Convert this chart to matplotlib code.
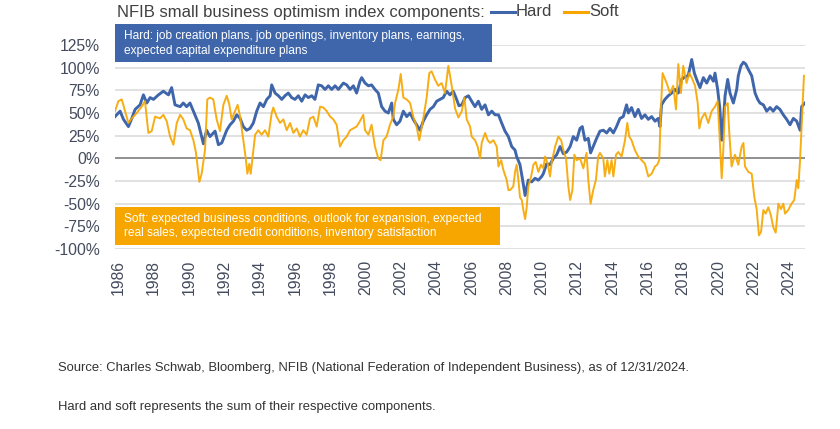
import matplotlib
matplotlib.use("Agg")
import matplotlib.pyplot as plt
from matplotlib.patches import Rectangle
from matplotlib.lines import Line2D

plt.rcParams["font.family"] = ["Liberation Sans", "DejaVu Sans"]

# values (decimal year, percent)
hard_years = [
    1985.81, 1986.10, 1986.29, 1986.57, 1986.76, 1986.95, 1987.23, 1987.42, 1987.61, 1987.80,
    1987.99, 1988.27, 1988.55, 1988.84, 1989.02, 1989.21, 1989.50, 1989.68, 1989.87, 1990.06,
    1990.25, 1990.53, 1990.82, 1991.00, 1991.19, 1991.48, 1991.67, 1991.86, 1992.14, 1992.33,
    1992.52, 1992.71, 1992.90, 1993.08, 1993.27, 1993.46, 1993.65, 1993.84, 1994.03, 1994.22,
    1994.41, 1994.60, 1994.69, 1994.88, 1995.07, 1995.26, 1995.44, 1995.63, 1995.82, 1996.01,
    1996.20, 1996.39, 1996.58, 1996.77, 1996.96, 1997.14, 1997.33, 1997.52, 1997.71, 1997.90,
    1998.09, 1998.28, 1998.47, 1998.75, 1998.94, 1999.13, 1999.32, 1999.50, 1999.69, 1999.79,
    1999.98, 2000.17, 2000.35, 2000.54, 2000.73, 2000.92, 2001.11, 2001.30, 2001.49, 2001.58,
    2001.77, 2001.96, 2002.15, 2002.34, 2002.53, 2002.71, 2002.90, 2003.09, 2003.28, 2003.47,
    2003.66, 2003.85, 2004.04, 2004.23, 2004.41, 2004.60, 2004.79, 2004.98, 2005.17, 2005.30,
    2005.46, 2005.65, 2005.84, 2006.02, 2006.21, 2006.40, 2006.59, 2006.78, 2006.97, 2007.16,
    2007.35, 2007.54, 2007.72, 2007.91, 2008.10, 2008.29, 2008.48, 2008.57, 2008.76, 2008.91,
    2009.05, 2009.23, 2009.42, 2009.61, 2009.80, 2009.99, 2010.08, 2010.27, 2010.46, 2010.65,
    2010.84, 2011.03, 2011.22, 2011.41, 2011.60, 2011.78, 2011.97, 2012.16, 2012.29, 2012.44,
    2012.63, 2012.76, 2012.91, 2013.10, 2013.29, 2013.48, 2013.67, 2013.86, 2014.05, 2014.23,
    2014.42, 2014.61, 2014.80, 2014.90, 2015.08, 2015.27, 2015.46, 2015.65, 2015.84, 2016.03,
    2016.22, 2016.41, 2016.59, 2016.69, 2016.78, 2016.97, 2017.16, 2017.35, 2017.54, 2017.73,
    2017.92, 2018.11, 2018.29, 2018.49, 2018.64, 2018.77, 2018.96, 2019.15, 2019.34, 2019.53,
    2019.72, 2019.81, 2019.96, 2020.09, 2020.19, 2020.28, 2020.38, 2020.53, 2020.66, 2020.85,
    2021.04, 2021.13, 2021.28, 2021.42, 2021.55, 2021.70, 2021.89, 2022.08, 2022.23, 2022.36,
    2022.55, 2022.74, 2022.93, 2023.11, 2023.30, 2023.49, 2023.68, 2023.87, 2024.06, 2024.25,
    2024.44, 2024.63, 2024.72, 2024.91,
]
hard_values = [
    46, 52, 43, 35, 44, 54, 59, 70, 61, 67,
    65, 70, 74, 70, 78, 59, 57, 61, 57, 61,
    52, 39, 16, 31, 24, 30, 15, 17, 31, 37,
    41, 48, 44, 35, 31, 33, 39, 52, 61, 57,
    65, 69, 81, 72, 69, 65, 69, 72, 67, 65,
    69, 63, 70, 67, 69, 65, 81, 80, 76, 80,
    76, 80, 76, 83, 81, 76, 80, 72, 85, 89,
    83, 80, 81, 76, 72, 57, 52, 50, 61, 43,
    37, 41, 52, 46, 50, 43, 37, 31, 41, 48,
    54, 57, 63, 65, 67, 74, 70, 74, 65, 58,
    59, 67, 69, 63, 57, 63, 54, 59, 48, 52,
    48, 48, 39, 30, 24, 13, 9, 2, -7, -24,
    -41, -24, -26, -22, -24, -20, -17, -6, -7, 0,
    4, 13, 5, 7, 13, 24, 20, 33, 35, 20,
    22, 6, 13, 22, 30, 31, 28, 33, 28, 35,
    44, 46, 59, 50, 56, 46, 54, 44, 48, 43,
    46, 41, 44, 35, 59, 65, 69, 72, 76, 72,
    87, 90, 91, 109, 94, 87, 78, 89, 83, 91,
    85, 94, 76, 54, 20, 39, 69, 87, 72, 61,
    76, 91, 102, 106, 104, 98, 91, 72, 65, 61,
    59, 52, 56, 52, 57, 54, 48, 43, 37, 44,
    41, 31, 57, 61,
]

soft_years = [
    1985.81, 1986.00, 1986.19, 1986.38, 1986.57, 1986.76, 1987.04, 1987.32, 1987.51, 1987.70,
    1987.89, 1988.08, 1988.36, 1988.55, 1988.74, 1988.93, 1989.12, 1989.31, 1989.50, 1989.68,
    1989.87, 1990.06, 1990.25, 1990.40, 1990.59, 1990.72, 1990.91, 1991.04, 1991.19, 1991.38,
    1991.57, 1991.76, 1991.95, 1992.14, 1992.28, 1992.42, 1992.61, 1992.76, 1992.90, 1993.08,
    1993.22, 1993.31, 1993.42, 1993.50, 1993.65, 1993.75, 1993.93, 1994.12, 1994.31, 1994.50,
    1994.69, 1994.78, 1994.97, 1995.16, 1995.35, 1995.54, 1995.73, 1995.92, 1996.11, 1996.29,
    1996.48, 1996.67, 1996.86, 1997.05, 1997.24, 1997.43, 1997.62, 1997.81, 1998.00, 1998.18,
    1998.37, 1998.56, 1998.75, 1998.94, 1999.13, 1999.32, 1999.50, 1999.69, 1999.88, 1999.98,
    2000.17, 2000.35, 2000.54, 2000.73, 2000.86, 2001.02, 2001.20, 2001.39, 2001.58, 2001.68,
    2001.87, 2002.00, 2002.15, 2002.34, 2002.53, 2002.71, 2002.90, 2003.05, 2003.24, 2003.47,
    2003.62, 2003.75, 2003.94, 2004.13, 2004.32, 2004.51, 2004.70, 2004.89, 2005.08, 2005.27,
    2005.46, 2005.61, 2005.74, 2005.93, 2006.02, 2006.21, 2006.36, 2006.50, 2006.59, 2006.78,
    2006.93, 2007.06, 2007.25, 2007.44, 2007.54, 2007.69, 2007.82, 2008.01, 2008.10, 2008.20,
    2008.38, 2008.48, 2008.57, 2008.67, 2008.76, 2008.86, 2008.95, 2009.05, 2009.14, 2009.23,
    2009.39, 2009.52, 2009.65, 2009.80, 2009.95, 2010.08, 2010.18, 2010.33, 2010.46, 2010.56,
    2010.75, 2010.93, 2011.09, 2011.22, 2011.37, 2011.50, 2011.60, 2011.73, 2011.84, 2011.97,
    2012.16, 2012.35, 2012.53, 2012.63, 2012.76, 2012.91, 2013.06, 2013.19, 2013.29, 2013.48,
    2013.57, 2013.71, 2013.82, 2013.95, 2014.05, 2014.20, 2014.33, 2014.52, 2014.71, 2014.84,
    2014.95, 2015.08, 2015.27, 2015.46, 2015.65, 2015.84, 2016.03, 2016.22, 2016.41, 2016.54,
    2016.65, 2016.75, 2016.84, 2017.07, 2017.26, 2017.44, 2017.60, 2017.73, 2017.88, 2018.01,
    2018.20, 2018.35, 2018.49, 2018.68, 2018.83, 2018.92, 2019.05, 2019.24, 2019.43, 2019.62,
    2019.81, 2019.96, 2020.06, 2020.19, 2020.28, 2020.38, 2020.53, 2020.62, 2020.75, 2020.85,
    2020.94, 2021.13, 2021.32, 2021.42, 2021.51, 2021.70, 2021.89, 2022.04, 2022.17, 2022.30,
    2022.42, 2022.55, 2022.68, 2022.83, 2022.98, 2023.11, 2023.25, 2023.40, 2023.55, 2023.68,
    2023.78, 2023.96, 2024.15, 2024.30, 2024.44, 2024.53, 2024.63, 2024.72, 2024.85,
]
soft_values = [
    52, 63, 65, 52, 39, 44, 50, 57, 63, 28,
    30, 46, 44, 48, 41, 24, 15, 39, 48, 43,
    33, 31, 20, 6, -26, -17, 9, 65, 67, 65,
    43, 30, 59, 69, 60, 43, 52, 59, 46, 20,
    0, -17, -6, -17, 9, 26, 31, 26, 31, 24,
    50, 56, 46, 39, 43, 31, 39, 28, 33, 24,
    31, 26, 44, 46, 35, 57, 56, 52, 46, 43,
    37, 13, 20, 24, 31, 33, 35, 41, 48, 31,
    26, 37, 13, 0, -2, 20, 24, 37, 46, 61,
    76, 93, 67, 65, 61, 46, 35, 20, 39, 67,
    94, 96, 87, 80, 83, 72, 102, 80, 55, 45,
    52, 67, 43, 35, 24, 20, 13, 0, 17, 28,
    20, 17, 20, 13, -9, -2, -13, -24, -35, -35,
    -31, -15, -7, -24, -43, -46, -57, -67, -54, -31,
    -20, -7, -4, -15, -7, -11, 2, -6, -20, -4,
    13, 24, 20, 9, 0, -31, -46, -35, 4, -2,
    0, -11, 6, -24, -50, -35, -24, 2, 6, 0,
    -20, -2, -17, -2, -20, 4, 7, 2, 20, 39,
    24, 20, 9, 2, -2, -6, -20, -17, -9, -7,
    -2, 57, 94, 83, 72, 80, 54, 104, 72, 102,
    83, 94, 89, 80, 61, 33, 44, 50, 39, 52,
    57, 63, 28, -22, 9, 57, 61, 28, -9, -2,
    4, -7, 13, 17, -9, -15, -17, -43, -56, -85,
    -81, -57, -61, -54, -63, -76, -82, -50, -56, -50,
    -61, -57, -50, -46, -24, -33, -2, 35, 91,
]

y_ticks = [-100, -75, -50, -25, 0, 25, 50, 75, 100, 125]
x_ticks = list(range(1986, 2025, 2))

title_text = "NFIB small business optimism index components:"
hard_note = ["Hard: job creation plans, job openings, inventory plans, earnings,",
             "expected capital expenditure plans"]
soft_note = ["Soft: expected business conditions, outlook for expansion, expected",
             "real sales, expected credit conditions, inventory satisfaction"]
source_text = ("Source: Charles Schwab, Bloomberg, NFIB (National Federation of "
               "Independent Business), as of 12/31/2024.")
footnote_text = "Hard and soft represents the sum of their respective components."

hard_color = "#3f66ab"
soft_color = "#f7a600"
label_color = "#444b5c"

W, H = 840, 429
fig = plt.figure(figsize=(W / 100, H / 100), dpi=100)


def fx(px):
    return px / W


def fy(py):
    return 1 - py / H


ax = fig.add_axes([fx(115), fy(249), fx(805) - fx(115), fy(45) - fy(249)])

ax.plot(hard_years, hard_values, color=hard_color, linewidth=2.1, zorder=3)
ax.plot(soft_years, soft_values, color=soft_color, linewidth=1.4, alpha=0.92, zorder=4)

ax.set_xlim(1985.81, 2024.91)
ax.set_ylim(-100, 125)

ax.set_yticks(y_ticks)
ax.set_yticklabels([f"{v}%" for v in y_ticks])
ax.set_xticks(x_ticks)
ax.set_xticklabels([str(y) for y in x_ticks], rotation=90)

ax.tick_params(axis="y", length=0, pad=11, labelsize=11.3, labelcolor=label_color)
ax.tick_params(axis="x", length=0, pad=8, labelsize=11.3, labelcolor=label_color)

ax.yaxis.grid(True, color="#d9d9d9", linewidth=1.1)
ax.set_axisbelow(True)
ax.axhline(0, color="#7a7a7a", linewidth=1.1, zorder=2)

for side in ax.spines.values():
    side.set_visible(False)

# annotation boxes
fig.patches.append(Rectangle((fx(115), fy(62)), fx(492) - fx(115), fy(24) - fy(62),
                             transform=fig.transFigure, facecolor=hard_color,
                             edgecolor="none", zorder=5))
fig.patches.append(Rectangle((fx(115), fy(245)), fx(500) - fx(115), fy(207) - fy(245),
                             transform=fig.transFigure, facecolor=soft_color,
                             edgecolor="none", zorder=5))

for line, py in zip(hard_note, [36, 51]):
    fig.text(fx(124), fy(py), line, color="white", fontsize=8.6, va="center", zorder=6)
for line, py in zip(soft_note, [219, 233]):
    fig.text(fx(124), fy(py), line, color="white", fontsize=8.6, va="center", zorder=6)

# title with inline legend
title = fig.text(fx(117), fy(12), title_text, fontsize=12, color="#404040", va="center")
fig.canvas.draw()
renderer = fig.canvas.get_renderer()
x_pos = title.get_window_extent(renderer).x1 + 6
for name, color in [("Hard", hard_color), ("Soft", soft_color)]:
    fig.lines.append(Line2D([fx(x_pos), fx(x_pos + 24)], [fy(12), fy(12)],
                            transform=fig.transFigure, color=color, linewidth=2.2))
    label = fig.text(fx(x_pos + 25), fy(12), name, fontsize=12, color="#404040", va="center")
    x_pos = label.get_window_extent(renderer).x1 + 12

fig.text(fx(58), fy(368), source_text, fontsize=9.4, color="#333333", va="center")
fig.text(fx(58), fy(407), footnote_text, fontsize=9.4, color="#333333", va="center")

fig.savefig("out.png", dpi=100)
